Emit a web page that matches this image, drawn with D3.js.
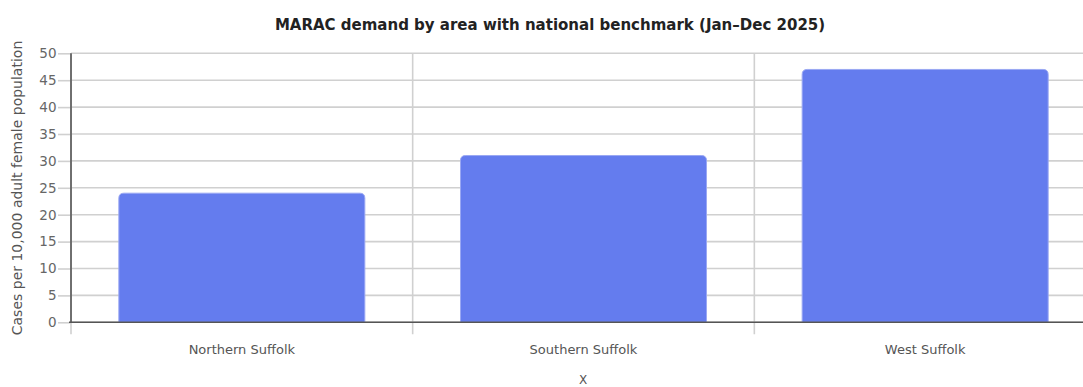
<!DOCTYPE html>
<html><head><meta charset="utf-8">
<script src="https://cdn.jsdelivr.net/npm/d3@7"></script>
<style>
html,body{margin:0;padding:0;background:#fff;overflow:hidden}
text{font-family:"DejaVu Sans",Verdana,sans-serif}
</style></head>
<body><svg id="c" width="1083" height="387"></svg>
<script>
const categories = ["Northern Suffolk", "Southern Suffolk", "West Suffolk"];
const values = [24, 31, 47];
const yTicks = [0, 5, 10, 15, 20, 25, 30, 35, 40, 45, 50];
const title = "MARAC demand by area with national benchmark (Jan–Dec 2025)";
const yTitle = "Cases per 10,000 adult female population";
const xTitle = "X";

const svg = d3.select("#c");
const L = 71, R = 1096, T = 53.3, B = 322.3;
const x = d3.scaleBand().domain(categories).range([L, R]).paddingInner(0.28).paddingOuter(0.14);
const xb = d3.scaleBand().domain(categories).range([L, R]);
const y = d3.scaleLinear().domain([0, 50]).range([B, T]);

// horizontal gridlines + ticks
const gy = svg.append("g").attr("transform", `translate(${L},0)`)
  .call(d3.axisLeft(y).tickValues(yTicks).tickSize(13).tickPadding(1.5));
gy.select(".domain").remove();
gy.selectAll(".tick line").attr("stroke", "#d0d0d0").attr("stroke-width", 1.6);
gy.selectAll(".tick text").attr("fill", "#666").attr("font-size", 13.5);
svg.append("g").selectAll("line").data(yTicks).join("line")
  .attr("x1", L).attr("x2", R).attr("y1", d => y(d)).attr("y2", d => y(d))
  .attr("stroke", "#d0d0d0").attr("stroke-width", 1.6);

// vertical gridlines at band boundaries
const bounds = categories.map(c => xb(c)).concat([R]);
svg.append("g").selectAll("line").data(bounds).join("line")
  .attr("x1", d => d).attr("x2", d => d).attr("y1", T).attr("y2", B + 12)
  .attr("stroke", "#d0d0d0").attr("stroke-width", 1.6);

// bars with rounded top corners
const r = 5;
function barPath(d, i) {
  const x0 = x(categories[i]), w = x.bandwidth(), y0 = y(d), y1 = y(0);
  return `M${x0},${y1}V${y0 + r}Q${x0},${y0} ${x0 + r},${y0}H${x0 + w - r}Q${x0 + w},${y0} ${x0 + w},${y0 + r}V${y1}Z`;
}
svg.append("g").selectAll("path").data(values).join("path")
  .attr("d", barPath).attr("fill", "#647cee").attr("stroke", "#9aa8f3").attr("stroke-width", 1);

// axes lines
svg.append("line").attr("x1", L).attr("x2", L).attr("y1", T).attr("y2", B)
  .attr("stroke", "#555").attr("stroke-width", 1.6);
svg.append("line").attr("x1", L - 2).attr("x2", R).attr("y1", B).attr("y2", B)
  .attr("stroke", "#555").attr("stroke-width", 1.6);

// x labels
const gx = svg.append("g").attr("transform", `translate(0,${B})`)
  .call(d3.axisBottom(xb).tickSize(0).tickPadding(22));
gx.select(".domain").remove();
gx.selectAll(".tick text").attr("fill", "#555").attr("font-size", 13);

// titles
svg.append("text").attr("x", 550).attr("y", 30).attr("text-anchor", "middle")
  .attr("font-size", 15).attr("font-weight", "bold").attr("fill", "#222").text(title);
svg.append("text").attr("transform", "translate(22,188) rotate(-90)").attr("text-anchor", "middle")
  .attr("font-size", 14).attr("fill", "#555").text(yTitle);
svg.append("text").attr("x", 583).attr("y", 384).attr("text-anchor", "middle")
  .attr("font-size", 12).attr("fill", "#555").text(xTitle);
</script></body></html>
